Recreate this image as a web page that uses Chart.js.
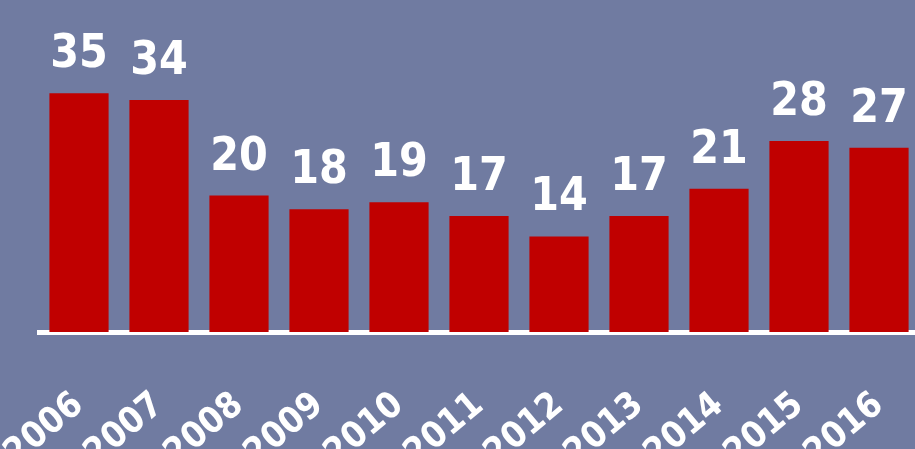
<!DOCTYPE html>
<html>
<head>
<meta charset="utf-8">
<script src="https://cdn.jsdelivr.net/npm/chart.js@4"></script>
<style>
  html, body { margin: 0; padding: 0; background: #707ba1; overflow: hidden; }
  #wrap { width: 925px; height: 449px; position: relative; }
</style>
</head>
<body>
<div id="wrap"><canvas id="yearChart"></canvas></div>
<script>
// Yearly counts
const years = ['2006', '2007', '2008', '2009', '2010', '2011', '2012', '2013', '2014', '2015', '2016'];
const counts = [35, 34, 20, 18, 19, 17, 14, 17, 21, 28, 27];
const yMax = 40;

// draws the value above each bar
const barValues = {
    id: 'barValues',
    afterDatasetsDraw(chart) {
        const ctx = chart.ctx;
        const meta = chart.getDatasetMeta(0);
        ctx.save();
        ctx.fillStyle = '#ffffff';
        ctx.font = 'bold 46px "DejaVu Sans Condensed", "DejaVu Sans"';
        ctx.textAlign = 'center';
        ctx.textBaseline = 'alphabetic';
        meta.data.forEach(function(bar, i) {
            ctx.fillText(String(counts[i]), bar.x, bar.y - 26);
        });
        ctx.restore();
    }
};

document.addEventListener('DOMContentLoaded', function() {
    const ctx = document.getElementById('yearChart').getContext('2d');
    new Chart(ctx, {
        type: 'bar',
        data: {
            labels: years,
            datasets: [{
                data: counts,
                backgroundColor: '#c00000',
                borderWidth: 0,
                barPercentage: 0.74,
                categoryPercentage: 1.0
            }]
        },
        options: {
            responsive: true,
            maintainAspectRatio: false,
            animation: false,
            layout: { padding: { left: 39, right: 6, top: 59, bottom: 0 } },
            plugins: {
                legend: { display: false },
                tooltip: { enabled: false }
            },
            scales: {
                x: {
                    grid: { display: false, drawTicks: false },
                    border: { display: true, color: '#ffffff', width: 5 },
                    ticks: {
                        color: '#ffffff',
                        font: { family: '"DejaVu Sans Condensed", "DejaVu Sans"', size: 36, weight: 'bold' },
                        minRotation: 40,
                        maxRotation: 40,
                        padding: 52
                    },
                    afterFit(scale) {
                        scale.height = 117;
                        scale.paddingLeft = 0;
                        scale.paddingRight = 0;
                    }
                },
                y: {
                    display: false,
                    min: 0,
                    max: yMax
                }
            }
        },
        plugins: [barValues]
    });
});
</script>
</body>
</html>
